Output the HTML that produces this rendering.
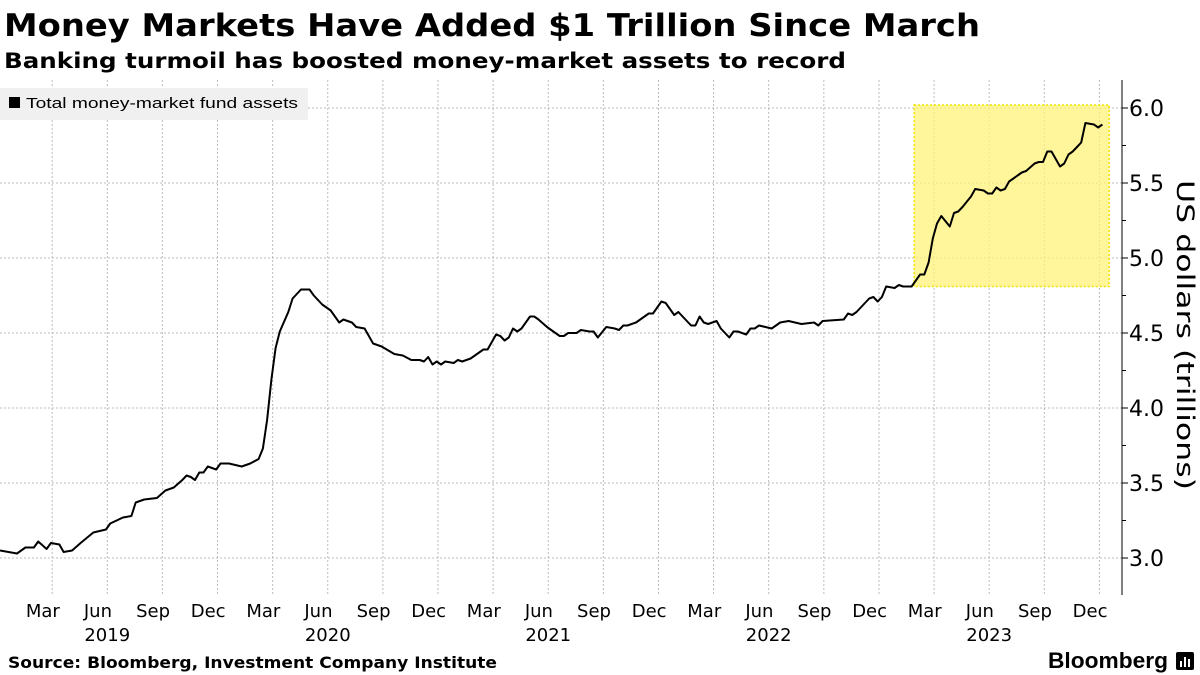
<!DOCTYPE html>
<html><head><meta charset="utf-8"><style>
html,body{margin:0;padding:0;background:#fff;}
svg{display:block;font-family:"DejaVu Sans","Liberation Sans",sans-serif;}
</style></head><body>
<svg id="chart" width="1200" height="675" viewBox="0 0 1200 675" xmlns="http://www.w3.org/2000/svg">
<text x="4" y="36" font-size="31" font-weight="bold" textLength="976" lengthAdjust="spacingAndGlyphs">Money Markets Have Added $1 Trillion Since March</text>
<text x="4" y="68" font-size="21" font-weight="bold" textLength="842" lengthAdjust="spacingAndGlyphs">Banking turmoil has boosted money-market assets to record</text>
<g id="grid"></g>
<rect id="hl" fill="#fff27a" fill-opacity="0.75" stroke="#f2e200" stroke-width="1.5" stroke-dasharray="2,2"/>
<path id="line" fill="none" stroke="#000" stroke-width="2" stroke-linejoin="round"/>
<g id="axis"></g>
<g id="xaxis"></g>
<g>
<rect x="0" y="88" width="308" height="32" fill="#f0f0f0"/>
<rect x="9" y="97" width="11" height="11" fill="#000"/>
<text x="26" y="108" font-size="15" font-family="Liberation Sans, sans-serif" textLength="272" lengthAdjust="spacingAndGlyphs">Total money-market fund assets</text>
</g>
<text transform="translate(1177,335) rotate(90)" text-anchor="middle" font-size="24" textLength="310" lengthAdjust="spacingAndGlyphs">US dollars (trillions)</text>
<text x="8" y="668" font-size="16" font-weight="bold" textLength="489" lengthAdjust="spacingAndGlyphs">Source: Bloomberg, Investment Company Institute</text>
<text x="1048" y="668" font-size="22" font-weight="bold" font-family="Liberation Sans, sans-serif" textLength="120" lengthAdjust="spacingAndGlyphs">Bloomberg</text>
<g><rect x="1176" y="652" width="18" height="18" rx="2" fill="#000"/><rect x="1180" y="661" width="2" height="6" fill="#fff"/><rect x="1184" y="657" width="2" height="10" fill="#fff"/><rect x="1188" y="659" width="2" height="8" fill="#fff"/></g>
</svg>
<script>
const weeks=[0,4,6,8,9,11,12,14,15,17,19,22,25,26,29,31,32,34,37,39,41,43,44,45,46,47,48,49,51,52,54,57,59,61,62,63,64,65,66,68,69,71,73,74,76,78,80,81,83,84,86,88,
90,93,95,97,99,100,101,102,103,104,105,107,108,109,111,112,114,115,117,118,119,120,121,122,123,125,126,127,129,130,132,133,134,136,137,139,140,141,143,145,146,147,148,150,152,153,154,156,157,159,160,161,163,164,165,166,167,169,170,172,173,174,176,177,178,179,
182,184,186,189,192,193,194,199,200,201,202,205,206,207,208,209,211,212,213,215,217,218,219,220,221,222,224,225,226,227,229,230,232,233,234,235,236,237,238,239,241,242,244,245,246,247,248,250,251,252,253,254,255,256,258,259,260];
const values=[3.05,3.03,3.07,3.07,3.11,3.06,3.10,3.09,3.04,3.05,3.10,3.17,3.19,3.23,3.27,3.28,3.37,3.39,3.40,3.45,3.47,3.52,3.55,3.54,3.52,3.57,3.57,3.61,3.59,3.63,3.63,3.61,3.63,3.66,3.73,3.92,4.19,4.40,4.51,4.64,4.73,4.79,4.79,4.75,4.69,4.65,4.57,4.59,4.57,4.54,4.53,4.43,
4.41,4.36,4.35,4.32,4.32,4.31,4.34,4.29,4.31,4.29,4.31,4.30,4.32,4.31,4.33,4.35,4.39,4.39,4.49,4.48,4.45,4.47,4.53,4.51,4.53,4.61,4.61,4.59,4.54,4.52,4.48,4.48,4.50,4.50,4.52,4.51,4.51,4.47,4.54,4.53,4.52,4.55,4.55,4.57,4.61,4.63,4.63,4.71,4.70,4.62,4.64,4.61,4.55,4.55,4.61,4.57,4.56,4.58,4.53,4.47,4.51,4.51,4.49,4.53,4.53,4.55,
4.53,4.57,4.58,4.56,4.57,4.55,4.58,4.59,4.63,4.62,4.64,4.73,4.74,4.71,4.74,4.81,4.80,4.82,4.81,4.81,4.89,4.89,4.97,5.13,5.23,5.28,5.21,5.30,5.31,5.34,5.41,5.46,5.45,5.43,5.43,5.47,5.45,5.46,5.51,5.53,5.57,5.58,5.63,5.64,5.64,5.71,5.71,5.61,5.63,5.69,5.71,5.74,5.77,5.90,5.89,5.87,5.89];
const yTicks=[3.0,3.5,4.0,4.5,5.0,5.5,6.0];
const yTickLabels=["3.0","3.5","4.0","4.5","5.0","5.5","6.0"];
const monthLabels=["Mar","Jun","Sep","Dec","Mar","Jun","Sep","Dec","Mar","Jun","Sep","Dec","Mar","Jun","Sep","Dec","Mar","Jun","Sep","Dec"];
const yearLabels=["2019","2020","2021","2022","2023"];
const highlightWeeks=[215.6,261.6];
const highlightValues=[4.81,6.02];

const NS="http://www.w3.org/2000/svg";
const WPX=4.24;
function xs(w){return w*WPX;}
function ys(v){return 108+(6-v)*150;}
function mk(tag,attrs,parent){const e=document.createElementNS(NS,tag);for(const k in attrs)e.setAttribute(k,attrs[k]);parent.appendChild(e);return e;}
const grid=document.getElementById('grid'),axis=document.getElementById('axis'),xaxis=document.getElementById('xaxis');
const TOP=80,BOT=595,AX=1122;
// vertical gridlines at quarter starts (Apr 1 2019 = week 12.3)
for(let k=0;k<20;k++){const w=12.3+k*13;const x=xs(w);
 const l=mk('line',{x1:x,x2:x,y1:TOP,y2:BOT,stroke:'#bbb','stroke-width':1,'stroke-dasharray':'2,2'},grid);
 
 
 const t=mk('text',{x:xs(w-2.2),y:617,'text-anchor':'middle','font-size':18},xaxis);
 t.textContent=monthLabels[k];
 
 
}
yearLabels.forEach((yl,i)=>{const t=mk('text',{x:xs(25.3+i*52),y:641,'text-anchor':'middle','font-size':18},xaxis);
 t.textContent=yl;
 
 });
yTicks.forEach((v,i)=>{const y=ys(v);
 const g=mk('line',{x1:0,x2:AX,y1:y,y2:y,stroke:'#bbb','stroke-width':1,'stroke-dasharray':'2,2'},grid);
 
 
 mk('line',{x1:AX,x2:AX+6,y1:y,y2:y,stroke:'#000','stroke-width':1},axis);
 const t=mk('text',{x:AX+7,y:y+8,'font-size':22},axis);
 t.textContent=yTickLabels[i];
 
 
 if(i<yTicks.length-1){const m=ys(v+0.25);mk('line',{x1:AX,x2:AX+4,y1:m,y2:m,stroke:'#000','stroke-width':1},axis);}
});
mk('line',{x1:AX,x2:AX,y1:TOP,y2:BOT,stroke:'#000','stroke-width':1},axis);
const hl=document.getElementById('hl');
hl.setAttribute('x',xs(highlightWeeks[0]));hl.setAttribute('width',xs(highlightWeeks[1])-xs(highlightWeeks[0]));
hl.setAttribute('y',ys(highlightValues[1]));hl.setAttribute('height',ys(highlightValues[0])-ys(highlightValues[1]));
let d='';weeks.forEach((w,i)=>{d+=(i?'L':'M')+xs(w).toFixed(1)+','+ys(values[i]).toFixed(1);});
document.getElementById('line').setAttribute('d',d);
</script>
</body></html>
